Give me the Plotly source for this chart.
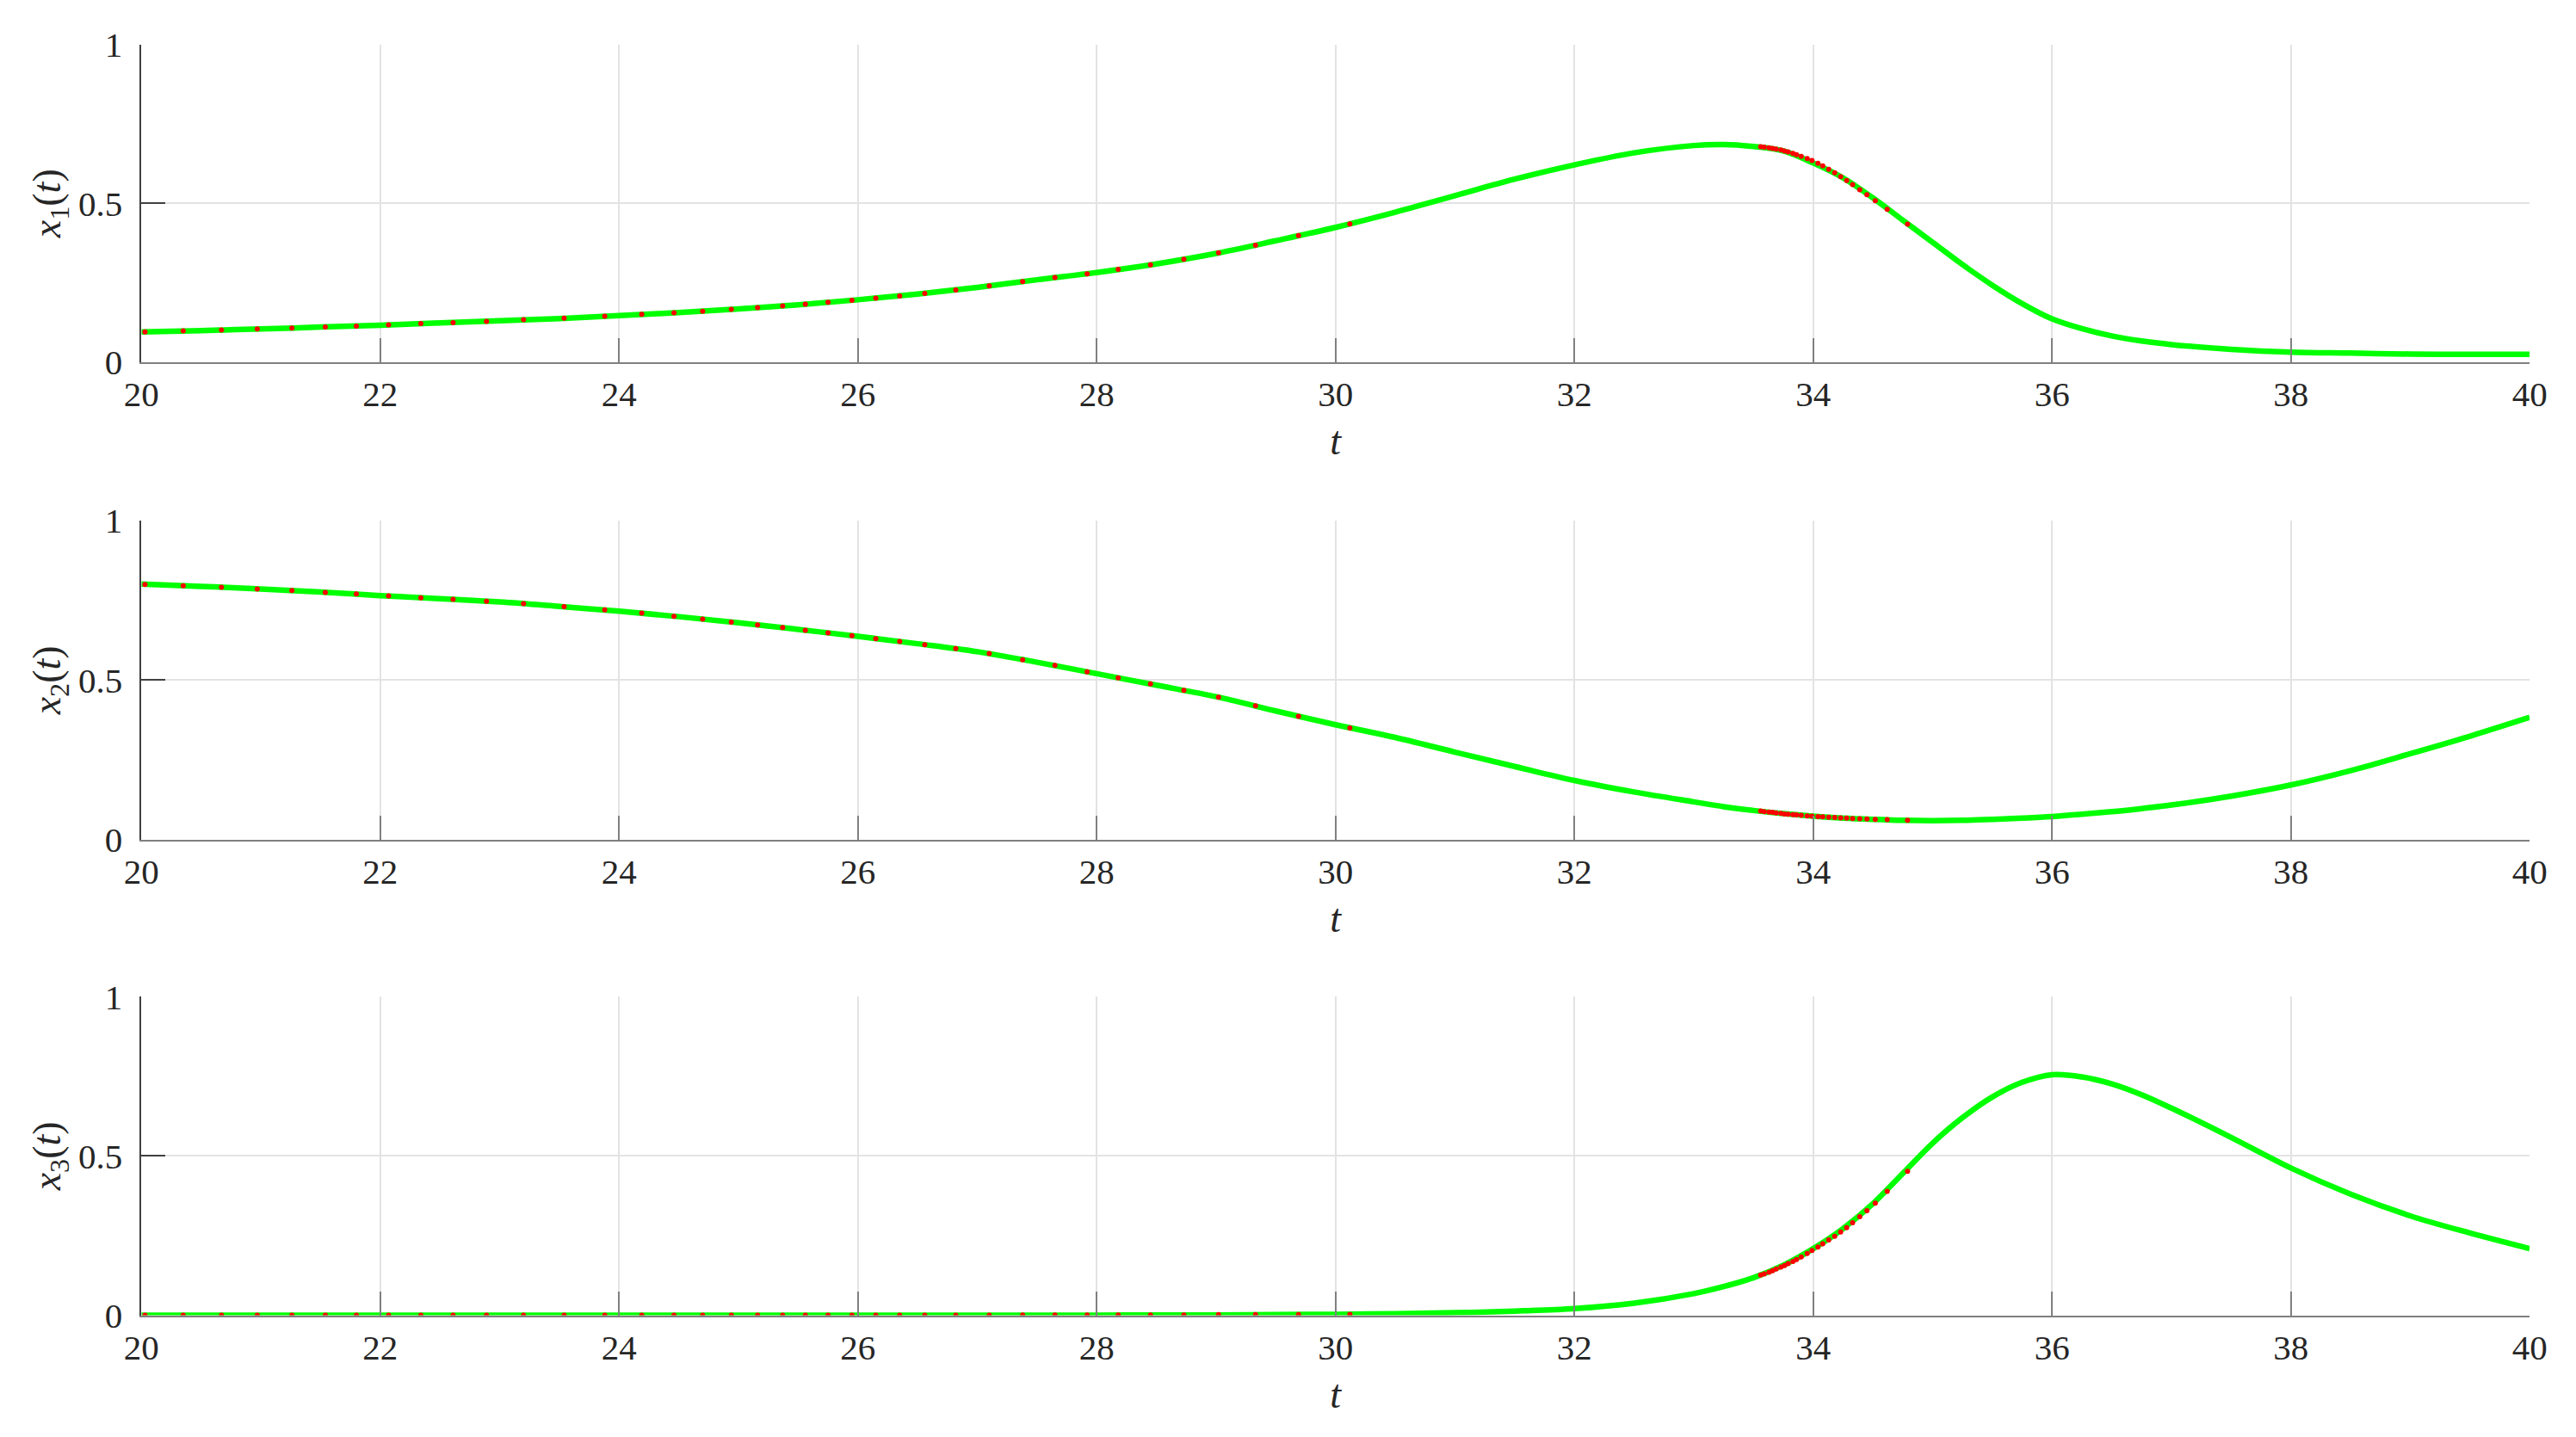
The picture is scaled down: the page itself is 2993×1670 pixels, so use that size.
import plotly.graph_objects as go
from plotly.subplots import make_subplots

# --- dados ---
# curva continua (verde)
t_curve = [20.0, 20.5, 21.0, 21.5, 22.0, 22.5, 23.0, 23.5, 24.0, 24.5,
           25.0, 25.5, 26.0, 26.5, 27.0, 27.5, 28.0, 28.5, 29.0, 29.5,
           30.0, 30.5, 31.0, 31.5, 32.0, 32.5, 33.0, 33.25, 33.5, 33.75,
           34.0, 34.25, 34.5, 34.75, 35.0, 35.25, 35.5, 35.75, 36.0, 36.25,
           36.5, 36.75, 37.0, 37.5, 38.0, 38.5, 39.0, 39.5, 40.0]

x1_curve = [0.095, 0.099, 0.104, 0.110, 0.116, 0.123, 0.130, 0.137, 0.146, 0.156,
            0.167, 0.180, 0.196, 0.214, 0.235, 0.259, 0.282, 0.309, 0.342, 0.382,
            0.424, 0.472, 0.524, 0.576, 0.621, 0.659, 0.682, 0.685, 0.679, 0.665,
            0.627, 0.580, 0.517, 0.447, 0.377, 0.307, 0.242, 0.184, 0.136, 0.105,
            0.082, 0.066, 0.055, 0.040, 0.031, 0.028, 0.025, 0.024, 0.024]

x2_curve = [0.801, 0.794, 0.786, 0.776, 0.765, 0.755, 0.745, 0.731, 0.716, 0.699,
            0.680, 0.659, 0.637, 0.614, 0.589, 0.556, 0.520, 0.484, 0.448, 0.403,
            0.360, 0.320, 0.274, 0.229, 0.185, 0.149, 0.118, 0.103, 0.091, 0.081,
            0.073, 0.067, 0.063, 0.060, 0.059, 0.060, 0.063, 0.067, 0.072, 0.079,
            0.087, 0.097, 0.108, 0.136, 0.171, 0.216, 0.269, 0.324, 0.383]

x3_curve = [0.000, 0.000, 0.000, 0.000, 0.000, 0.000, 0.000, 0.000, 0.000, 0.000,
            0.000, 0.000, 0.000, 0.000, 0.000, 0.000, 0.000, 0.001, 0.001, 0.002,
            0.003, 0.005, 0.008, 0.013, 0.021, 0.038, 0.068, 0.090, 0.118, 0.157,
            0.209, 0.272, 0.350, 0.445, 0.540, 0.620, 0.685, 0.731, 0.755, 0.748,
            0.726, 0.692, 0.650, 0.558, 0.462, 0.380, 0.312, 0.258, 0.209]

# pontos do integrador (vermelho)
t_steps = [20.03, 20.35, 20.67, 20.97, 21.26, 21.54, 21.80, 22.07, 22.34, 22.61,
           22.89, 23.20, 23.54, 23.88, 24.19, 24.46, 24.70, 24.94, 25.16, 25.37,
           25.56, 25.75, 25.95, 26.15, 26.35, 26.56, 26.82, 27.10, 27.38, 27.65,
           27.92, 28.18, 28.45, 28.73, 29.02, 29.33, 29.69, 30.12,
           33.56, 33.59, 33.63, 33.66, 33.69, 33.73, 33.76, 33.79, 33.83, 33.86,
           33.90, 33.95, 33.99, 34.04, 34.08, 34.13, 34.18, 34.23, 34.28, 34.33,
           34.39, 34.45, 34.52, 34.62, 34.79]

x1_steps = [0.095, 0.098, 0.101, 0.104, 0.107, 0.110, 0.113, 0.117, 0.121, 0.124,
            0.128, 0.133, 0.138, 0.144, 0.150, 0.155, 0.160, 0.166, 0.171, 0.177,
            0.182, 0.188, 0.194, 0.201, 0.208, 0.216, 0.227, 0.240, 0.253, 0.266,
            0.278, 0.292, 0.306, 0.324, 0.344, 0.368, 0.398, 0.435,
            0.678, 0.677, 0.675, 0.673, 0.671, 0.668, 0.665, 0.662, 0.657, 0.653,
            0.648, 0.641, 0.635, 0.626, 0.618, 0.607, 0.596, 0.584, 0.572, 0.559,
            0.543, 0.527, 0.508, 0.481, 0.434]

x2_steps = [0.800, 0.796, 0.791, 0.786, 0.781, 0.775, 0.770, 0.764, 0.758, 0.753,
            0.747, 0.740, 0.730, 0.720, 0.710, 0.700, 0.691, 0.682, 0.673, 0.665,
            0.656, 0.648, 0.639, 0.630, 0.621, 0.611, 0.599, 0.583, 0.564, 0.546,
            0.526, 0.507, 0.488, 0.468, 0.446, 0.419, 0.386, 0.350,
            0.089, 0.087, 0.086, 0.085, 0.083, 0.082, 0.080, 0.079, 0.078, 0.077,
            0.076, 0.074, 0.073, 0.072, 0.071, 0.070, 0.069, 0.068, 0.067, 0.066,
            0.065, 0.064, 0.063, 0.062, 0.060]

x3_steps = [0.000, 0.000, 0.000, 0.000, 0.000, 0.000, 0.000, 0.000, 0.000, 0.000,
            0.000, 0.000, 0.000, 0.000, 0.000, 0.000, 0.000, 0.000, 0.000, 0.000,
            0.000, 0.000, 0.000, 0.000, 0.000, 0.000, 0.000, 0.000, 0.001, 0.001,
            0.001, 0.001, 0.001, 0.001, 0.002, 0.002, 0.002, 0.003,
            0.126, 0.130, 0.135, 0.140, 0.145, 0.151, 0.156, 0.162, 0.169, 0.175,
            0.183, 0.194, 0.203, 0.214, 0.224, 0.236, 0.248, 0.261, 0.275, 0.290,
            0.309, 0.328, 0.352, 0.389, 0.452]

y_labels = ['<i>x</i><sub>1</sub>(<i>t</i>)',
            '<i>x</i><sub>2</sub>(<i>t</i>)',
            '<i>x</i><sub>3</sub>(<i>t</i>)']
x_ticks = [20, 22, 24, 26, 28, 30, 32, 34, 36, 38, 40]
y_ticks = [0, 0.5, 1]

curves = [x1_curve, x2_curve, x3_curve]
steps = [x1_steps, x2_steps, x3_steps]

fig = make_subplots(rows=3, cols=1)

for i in range(3):
    fig.add_trace(go.Scatter(
        x=t_curve, y=curves[i], mode='lines',
        line=dict(color='#00FF00', width=6.5, shape='spline'),
        showlegend=False
    ), row=i + 1, col=1)
    fig.add_trace(go.Scatter(
        x=t_steps, y=steps[i], mode='markers',
        marker=dict(color='#FF0000', size=6, line=dict(width=0)),
        showlegend=False
    ), row=i + 1, col=1)

# dominios em fracao da pagina
y_domains = [[0.7505, 0.9735], [0.4150, 0.6390], [0.0807, 0.3046]]
font_serif = 'Liberation Serif'

for i in range(3):
    fig.update_xaxes(
        domain=[0.0525, 0.9846], range=[20, 40], automargin=False,
        tickvals=x_ticks, ticks='inside', ticklen=28, tickwidth=1.5,
        tickcolor='#808080', showline=True, linecolor='#808080', linewidth=2,
        showgrid=True, gridcolor='#e3e3e3', gridwidth=1.5, zeroline=False,
        tickfont=dict(family=font_serif, size=41, color='#262626'),
        ticklabelstandoff=0,
        title=dict(text='<i>t</i>', standoff=16,
                   font=dict(family=font_serif, size=46, color='#262626')),
        row=i + 1, col=1)
    fig.update_yaxes(
        domain=y_domains[i], range=[0, 1], automargin=False,
        tickvals=y_ticks, ticktext=['0', '0.5', '1'],
        ticks='inside', ticklen=28, tickwidth=1.5,
        tickcolor='#404040', showline=True, linecolor='#404040', linewidth=1.5,
        showgrid=True, gridcolor='#e3e3e3', gridwidth=1.5, zeroline=False,
        tickfont=dict(family=font_serif, size=41, color='#262626'),
        ticklabelstandoff=12,
        title=dict(text=y_labels[i], standoff=6,
                   font=dict(family=font_serif, size=46, color='#262626')),
        row=i + 1, col=1)

fig.update_layout(
    margin=dict(l=0, r=0, t=0, b=0, autoexpand=False),
    plot_bgcolor='white',
    paper_bgcolor='white',
    showlegend=False,
)

fig.write_html('out.html')
